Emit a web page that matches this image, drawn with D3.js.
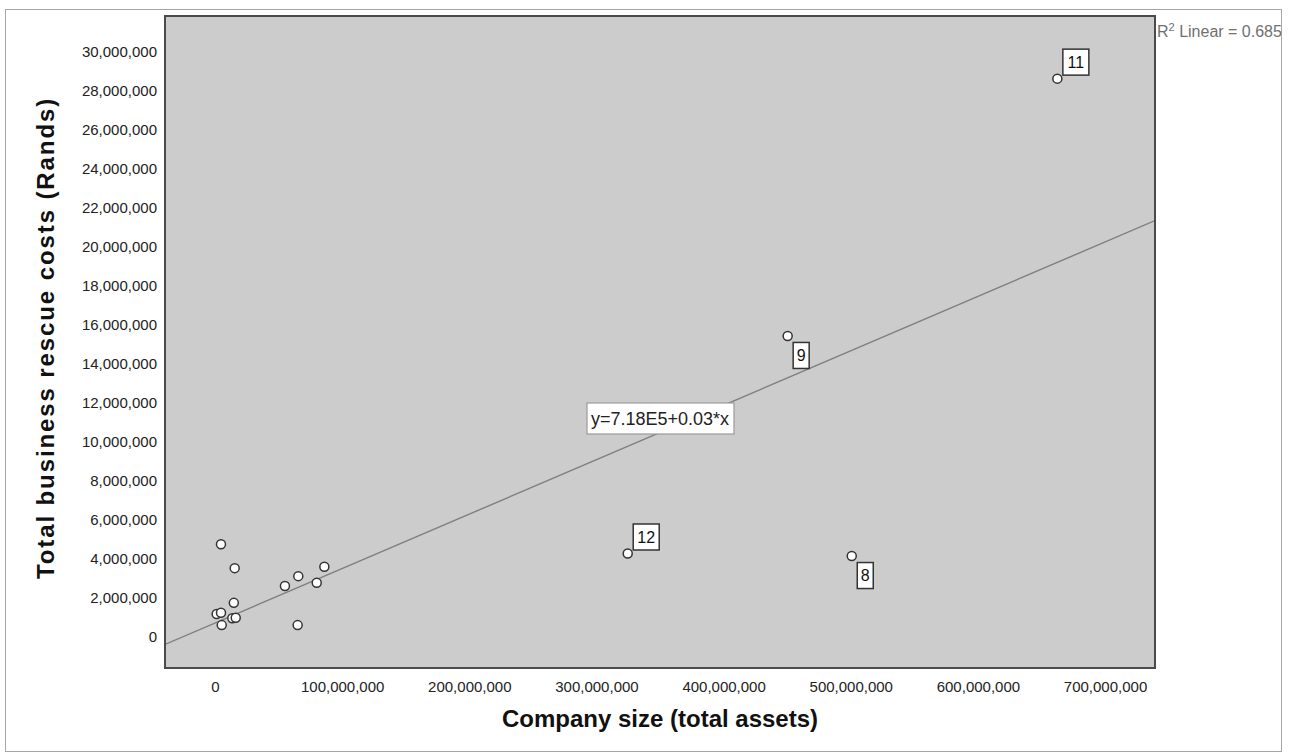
<!DOCTYPE html>
<html>
<head>
<meta charset="utf-8">
<script src="https://cdn.jsdelivr.net/npm/d3@7"></script>
<style>
  html, body { margin: 0; padding: 0; background: #ffffff; }
  svg { display: block; font-family: "Liberation Sans", Arial, sans-serif; }
</style>
</head>
<body>
<svg id="chart" width="1289" height="756"></svg>
<script>
// Company size (total assets, Rands) for each business rescue case
const companySize = [
  4.7e6, 15.5e6, 14.8e6, 1.3e6, 4.7e6, 13.6e6, 16.3e6, 5.3e6,
  55e6, 65.5e6, 80e6, 86e6, 65e6,
  500.8e6, 450.4e6, 662.5e6, 324.6e6
];
// Total business rescue costs (Rands) for the same cases
const rescueCosts = [
  4.75e6, 3.53e6, 1.75e6, 1.18e6, 1.24e6, 0.96e6, 0.99e6, 0.61e6,
  2.61e6, 3.12e6, 2.78e6, 3.6e6, 0.61e6,
  4.15e6, 15.43e6, 28.62e6, 4.28e6
];
// Case numbers shown next to the outlying cases
const caseLabels = [
  null, null, null, null, null, null, null, null,
  null, null, null, null, null,
  "8", "9", "11", "12"
];
// Cases whose label sits below-right of the marker instead of above-right
const labelsBelow = ["8", "9"];

// Linear fit
const fitIntercept = 7.18e5;
const fitSlope = 0.0279;
const rSquared = 0.685;

const xTicks = d3.range(0, 700e6 + 1, 100e6);
const yTicks = d3.range(0, 30e6 + 1, 2e6);

const xTitle = "Company size (total assets)";
const yTitle = "Total business rescue costs (Rands)";

// ---- layout ----
const plot = { left: 165, right: 1155, top: 16, bottom: 668 };

const x = d3.scaleLinear().domain([-39.33e6, 739.3e6]).range([plot.left, plot.right]);
const y = d3.scaleLinear().domain([-1.589e6, 31.83e6]).range([plot.bottom, plot.top]);

const svg = d3.select("#chart");
const fmt = d3.format(",");

// outer frame
svg.append("rect")
  .attr("x", 5.5).attr("y", 9.5)
  .attr("width", 1276).attr("height", 742)
  .attr("fill", "#ffffff")
  .attr("stroke", "#a6a6a6").attr("stroke-width", 1);

// plot background
svg.append("rect")
  .attr("x", plot.left).attr("y", plot.top)
  .attr("width", plot.right - plot.left).attr("height", plot.bottom - plot.top)
  .attr("fill", "#cccccc");

svg.append("clipPath").attr("id", "plotClip")
  .append("rect")
  .attr("x", plot.left).attr("y", plot.top)
  .attr("width", plot.right - plot.left).attr("height", plot.bottom - plot.top);

// axes (labels only, no tick marks or domain line)
const xAxis = svg.append("g")
  .attr("transform", `translate(0,${plot.bottom})`)
  .call(d3.axisBottom(x).tickValues(xTicks).tickFormat(fmt).tickSize(0).tickPadding(13));
const yAxis = svg.append("g")
  .attr("transform", `translate(${plot.left},0)`)
  .call(d3.axisLeft(y).tickValues(yTicks).tickFormat(fmt).tickSize(0).tickPadding(8));
[xAxis, yAxis].forEach(g => {
  g.select(".domain").remove();
  g.selectAll("text")
    .attr("font-family", "'Liberation Sans', Arial, sans-serif")
    .attr("font-size", 15)
    .attr("fill", "#222222");
});

// regression line
const fitLine = d => fitIntercept + fitSlope * d;
const xd = x.domain();
svg.append("line")
  .attr("clip-path", "url(#plotClip)")
  .attr("x1", x(xd[0])).attr("y1", y(fitLine(xd[0])))
  .attr("x2", x(xd[1])).attr("y2", y(fitLine(xd[1])))
  .attr("stroke", "#7f7f7f").attr("stroke-width", 1.4);

// equation label on the fit line
const eqText = `y=${(fitIntercept / 1e5).toFixed(2)}E5+${fitSlope.toFixed(2)}*x`;
const eqCx = (plot.left + plot.right) / 2;
const eqCy = y(fitLine(x.invert(eqCx))) - 14;
const eqG = svg.append("g");
const eqBoxW = 147, eqBoxH = 31;
eqG.append("rect")
  .attr("x", eqCx - eqBoxW / 2 + 0.5).attr("y", eqCy - eqBoxH / 2)
  .attr("width", eqBoxW).attr("height", eqBoxH)
  .attr("fill", "#ffffff").attr("stroke", "#9a9a9a").attr("stroke-width", 1.2);
eqG.append("text")
  .attr("x", eqCx).attr("y", eqCy)
  .attr("dy", "0.36em")
  .attr("text-anchor", "middle")
  .attr("font-size", 18)
  .attr("fill", "#222222")
  .text(eqText);

// data points
const pts = companySize.map((v, i) => ({ x: v, y: rescueCosts[i], label: caseLabels[i] }));
svg.append("g").selectAll("circle")
  .data(pts)
  .join("circle")
  .attr("cx", d => x(d.x))
  .attr("cy", d => y(d.y))
  .attr("r", 4.5)
  .attr("fill", "#ffffff")
  .attr("stroke", "#333333")
  .attr("stroke-width", 1.5);

// case labels
const labG = svg.append("g");
pts.filter(d => d.label).forEach(d => {
  const cx = x(d.x), cy = y(d.y);
  const w = d.label.length > 1 ? 26 : 16;
  const h = 26;
  const below = labelsBelow.includes(d.label);
  const bx = cx + 5.5;
  const by = below ? cy + 6.5 : cy - 3.5 - h;
  labG.append("rect")
    .attr("x", bx).attr("y", by).attr("width", w).attr("height", h)
    .attr("fill", "#ffffff").attr("stroke", "#333333").attr("stroke-width", 1.5);
  labG.append("text")
    .attr("x", bx + w / 2).attr("y", by + h / 2)
    .attr("dy", "0.36em")
    .attr("text-anchor", "middle")
    .attr("font-size", 16)
    .attr("fill", "#111111")
    .text(d.label);
});

// plot border
svg.append("rect")
  .attr("x", plot.left).attr("y", plot.top)
  .attr("width", plot.right - plot.left).attr("height", plot.bottom - plot.top)
  .attr("fill", "none")
  .attr("stroke", "#4a4a4a").attr("stroke-width", 2);

// R squared annotation
const r2 = svg.append("text")
  .attr("x", plot.right + 2).attr("y", 37)
  .attr("font-size", 16)
  .attr("fill", "#707070");
r2.append("tspan").text("R");
r2.append("tspan").attr("dy", -6).attr("font-size", 11).text("2");
r2.append("tspan").attr("dy", 6).text(` Linear = ${rSquared.toFixed(3)}`);

// axis titles
svg.append("text")
  .attr("x", (plot.left + plot.right) / 2).attr("y", 727)
  .attr("text-anchor", "middle")
  .attr("font-size", 24).attr("font-weight", "bold")
  .attr("fill", "#111111")
  .text(xTitle);
svg.append("text")
  .attr("transform", `translate(54,${(plot.top + plot.bottom) / 2 - 4}) rotate(-90)`)
  .attr("text-anchor", "middle")
  .attr("font-size", 24).attr("font-weight", "bold")
  .attr("letter-spacing", 1.9)
  .attr("fill", "#111111")
  .text(yTitle);
</script>
</body>
</html>
